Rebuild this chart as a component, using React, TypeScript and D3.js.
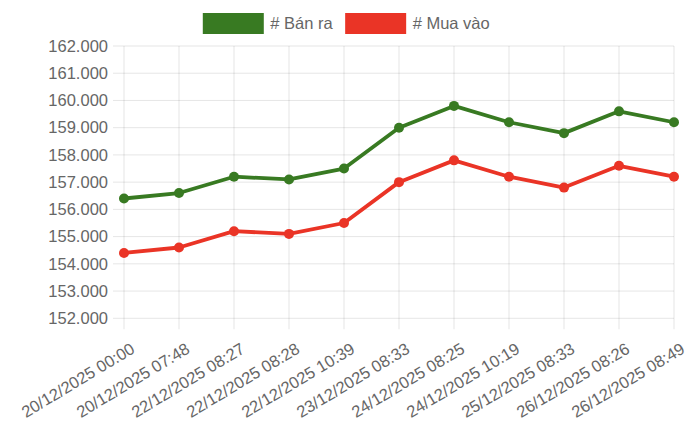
import React, { useEffect, useRef } from "react";
import * as d3 from "d3";

const labels = [
  "20/12/2025 00:00",
  "20/12/2025 07:48",
  "22/12/2025 08:27",
  "22/12/2025 08:28",
  "22/12/2025 10:39",
  "23/12/2025 08:33",
  "24/12/2025 08:25",
  "24/12/2025 10:19",
  "25/12/2025 08:33",
  "26/12/2025 08:26",
  "26/12/2025 08:49",
];
const banRa = [156400, 156600, 157200, 157100, 157500, 159000, 159800, 159200, 158800, 159600, 159200];
const muaVao = [154400, 154600, 155200, 155100, 155500, 157000, 157800, 157200, 156800, 157600, 157200];
const yTicks = [152000, 153000, 154000, 155000, 156000, 157000, 158000, 159000, 160000, 161000, 162000];
const seriesNames = ["# Bán ra", "# Mua vào"];
const seriesColors = ["#387a22", "#ea3426"];

const W = 700;
const H = 431;
const FONT = "'Liberation Sans', Arial, Helvetica, sans-serif";
const FONT_SIZE = 16.5;
const TEXT = "#666";
const GRID = "rgba(0,0,0,0.1)";

const App = () => {
  const ref = useRef<SVGSVGElement>(null);

  useEffect(() => {
    document.body.style.margin = "0";
    const svg = d3.select(ref.current);
    svg.selectAll("*").remove();

    const left = 124;
    const right = 674;
    const top = 46;
    const bottom = 318.3;

    const x = d3.scalePoint<string>().domain(labels).range([left, right]);
    const y = d3.scaleLinear().domain([152000, 162000]).range([bottom, top]);
    const fmt = d3
      .formatLocale({ decimal: ",", thousands: ".", grouping: [3], currency: ["", ""] })
      .format(",");

    // grid
    const grid = svg.append("g").attr("stroke", GRID).attr("stroke-width", 1);
    grid
      .selectAll("line.h")
      .data(yTicks)
      .enter()
      .append("line")
      .attr("x1", left - 11)
      .attr("x2", right)
      .attr("y1", (d) => y(d))
      .attr("y2", (d) => y(d));
    grid
      .selectAll("line.v")
      .data(labels)
      .enter()
      .append("line")
      .attr("x1", (d) => x(d)!)
      .attr("x2", (d) => x(d)!)
      .attr("y1", top)
      .attr("y2", bottom + 11);

    // y labels
    svg
      .append("g")
      .attr("font-family", FONT)
      .attr("font-size", FONT_SIZE)
      .attr("fill", TEXT)
      .attr("text-anchor", "end")
      .selectAll("text")
      .data(yTicks)
      .enter()
      .append("text")
      .attr("x", 108)
      .attr("y", (d) => y(d))
      .attr("dy", "0.35em")
      .text((d) => fmt(d));

    // x labels
    svg
      .append("g")
      .attr("font-family", FONT)
      .attr("font-size", FONT_SIZE)
      .attr("fill", TEXT)
      .attr("text-anchor", "end")
      .selectAll("text")
      .data(labels)
      .enter()
      .append("text")
      .attr("transform", (d) => `translate(${x(d)! + 12},352) rotate(-31)`)
      .text((d) => d);

    // lines
    const line = d3
      .line<number>()
      .x((_, i) => x(labels[i])!)
      .y((d) => y(d));

    [banRa, muaVao].forEach((values, s) => {
      const g = svg.append("g");
      g.append("path")
        .datum(values)
        .attr("fill", "none")
        .attr("stroke", seriesColors[s])
        .attr("stroke-width", 3.8)
        .attr("stroke-linejoin", "round")
        .attr("d", line);
      g.selectAll("circle")
        .data(values)
        .enter()
        .append("circle")
        .attr("cx", (_, i) => x(labels[i])!)
        .attr("cy", (d) => y(d))
        .attr("r", 5)
        .attr("fill", seriesColors[s]);
    });

    // legend
    const boxW = 61;
    const boxH = 21;
    const legend = svg
      .append("g")
      .attr("font-family", FONT)
      .attr("font-size", FONT_SIZE)
      .attr("fill", TEXT);
    const items = seriesNames.map((name) => {
      const item = legend.append("g");
      const t = item
        .append("text")
        .attr("x", boxW + 7)
        .attr("y", 13 + boxH / 2)
        .attr("dy", "0.35em")
        .text(name);
      return { item, w: boxW + 7 + (t.node() as SVGTextElement).getComputedTextLength() };
    });
    const gap = 12;
    const total = d3.sum(items, (d) => d.w) + gap * (items.length - 1);
    let cx = 346 - total / 2;
    items.forEach((d, s) => {
      d.item.attr("transform", `translate(${cx},0)`);
      d.item
        .insert("rect", "text")
        .attr("x", 0.5)
        .attr("y", 13)
        .attr("width", boxW)
        .attr("height", boxH)
        .attr("fill", seriesColors[s]);
      cx += d.w + gap;
    });
  }, []);

  return <svg ref={ref} width={W} height={H} style={{ display: "block", background: "#fff" }} />;
};

export default App;
